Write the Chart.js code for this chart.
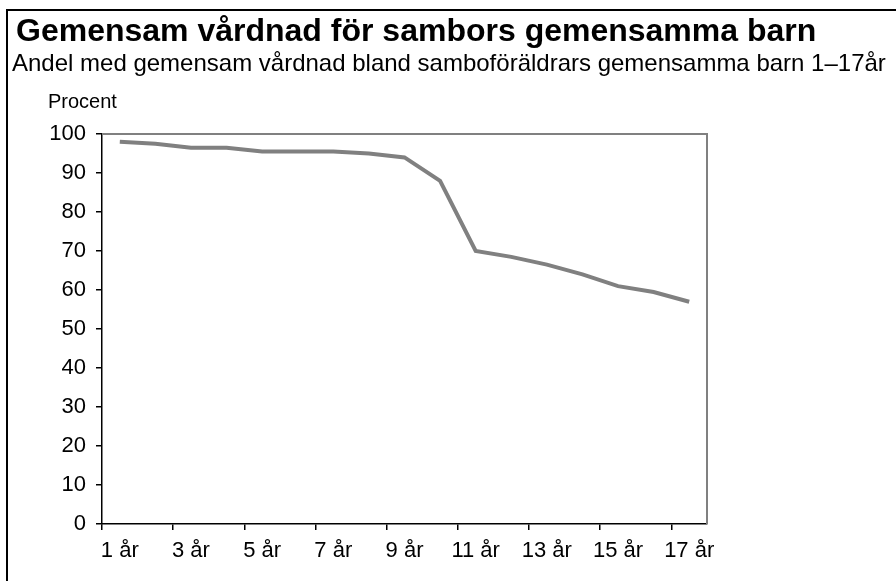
<!DOCTYPE html>
<html>
<head>
<meta charset="utf-8">
<script src="https://cdn.jsdelivr.net/npm/chart.js@4.4.0/dist/chart.umd.min.js"></script>
<style>
    html, body { margin: 0; padding: 0; background: #fff; }
    body { width: 896px; height: 581px; position: relative; overflow: hidden; font-family: "Liberation Sans", Arial, sans-serif; color: #000; }
    #frame { position: absolute; left: 6px; top: 9px; width: 1000px; height: 1000px; border-left: 2px solid #000; border-top: 2px solid #000; }
    .txt { position: absolute; white-space: nowrap; line-height: 1; }
    #title { left: 16px; top: 14px; font-size: 32px; font-weight: bold; }
    #subtitle { left: 12px; top: 51px; font-size: 24px; }
    #unit { left: 48px; top: 91px; font-size: 20px; }
    #chart { position: absolute; left: 0; top: 0; }
</style>
</head>
<body>
<div id="frame"></div>
<canvas id="chart" width="896" height="581"></canvas>
<div class="txt" id="title">Gemensam vårdnad för sambors gemensamma barn</div>
<div class="txt" id="subtitle">Andel med gemensam vårdnad bland samboföräldrars gemensamma barn 1–17år</div>
<div class="txt" id="unit">Procent</div>
<script>
    // barnets ålder
    const ages = ["1 år", "2 år", "3 år", "4 år", "5 år", "6 år", "7 år", "8 år", "9 år",
        "10 år", "11 år", "12 år", "13 år", "14 år", "15 år", "16 år", "17 år"];

    // andel med gemensam vårdnad, procent
    const shares = [98, 97.5, 96.5, 96.5, 95.5, 95.5, 95.5, 95, 94,
        88, 70, 68.5, 66.5, 64, 61, 59.5, 57];

    const yTicks = [0, 10, 20, 30, 40, 50, 60, 70, 80, 90, 100];

    const FONT = "'Liberation Sans', Arial, sans-serif";

    // grå ram runt diagramytan (topp och höger)
    const boxPlugin = {
        id: 'box',
        beforeDatasetsDraw(chart) {
            const a = chart.chartArea;
            const ctx = chart.ctx;
            ctx.save();
            ctx.strokeStyle = '#808080';
            ctx.lineWidth = 2;
            ctx.beginPath();
            ctx.moveTo(a.left, a.top);
            ctx.lineTo(a.right, a.top);
            ctx.lineTo(a.right, a.bottom);
            ctx.stroke();
            ctx.restore();
        }
    };

    new Chart(document.getElementById('chart'), {
        type: 'line',
        data: {
            labels: ages,
            datasets: [{
                data: shares,
                borderColor: '#808080',
                borderWidth: 4,
                pointRadius: 0,
                tension: 0,
                fill: false
            }]
        },
        options: {
            responsive: false,
            animation: false,
            devicePixelRatio: 1,
            layout: {padding: {left: 0, top: 134, right: 189, bottom: 17}},
            plugins: {legend: {display: false}, tooltip: {enabled: false}},
            scales: {
                x: {
                    offset: true,
                    border: {color: '#000', width: 1.5},
                    grid: {
                        offset: true,
                        drawOnChartArea: false,
                        tickLength: 6,
                        lineWidth: 1.5,
                        color: (c) => c.index % 2 === 0 ? '#000' : 'rgba(0,0,0,0)'
                    },
                    ticks: {
                        autoSkip: false,
                        maxRotation: 0,
                        padding: 8,
                        color: '#000',
                        font: {family: FONT, size: 22},
                        callback: (v, i) => i % 2 === 0 ? ages[i] : ''
                    },
                    afterFit: (s) => { s.height = 40; }
                },
                y: {
                    min: 0,
                    max: 100,
                    afterBuildTicks: (s) => { s.ticks = yTicks.map(v => ({value: v})); },
                    border: {color: '#000', width: 1.5},
                    grid: {drawOnChartArea: false, tickLength: 6, lineWidth: 1.5, color: '#000'},
                    ticks: {
                        padding: 10,
                        color: '#000',
                        font: {family: FONT, size: 22}
                    },
                    afterFit: (s) => { s.width = 102; }
                }
            }
        },
        plugins: [boxPlugin]
    });
</script>
</body>
</html>
